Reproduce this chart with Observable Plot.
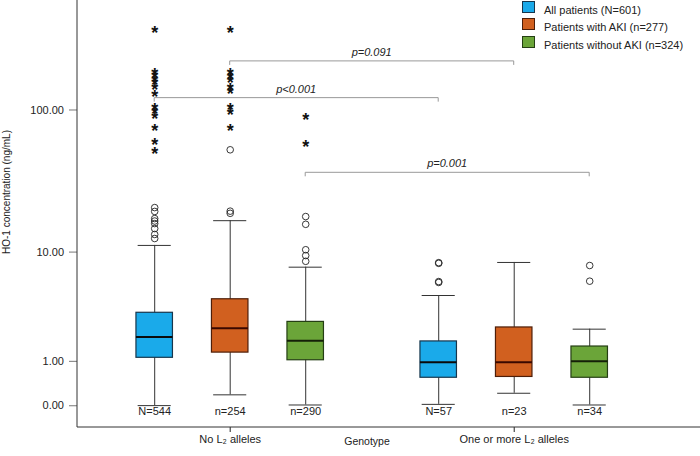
<!DOCTYPE html>
<html><head><meta charset="utf-8">
<script src="https://cdn.jsdelivr.net/npm/d3@7"></script>
<script src="https://cdn.jsdelivr.net/npm/@observablehq/plot@0.6"></script>
<style>
body{margin:0;background:#fff;font-family:Arial,"Liberation Sans",sans-serif;}
#wrap{position:relative;width:700px;height:456px;overflow:hidden;}
#legend{position:absolute;left:522px;top:0;font-size:11px;color:#222;}
#legend .item{position:absolute;left:0;white-space:nowrap;}
#legend .sw{position:absolute;left:0;top:0;width:11px;height:10px;border:1px solid #333;}
#legend .lb{position:absolute;left:22px;top:3px;line-height:12px;}
</style></head><body><div id="wrap"><div id="legend"></div></div>
<script>
const groups = ["No L₂ alleles", "One or more L₂ alleles"];
const series = ["All patients (N=601)", "Patients with AKI (n=277)", "Patients without AKI (n=324)"];
const fillColors = ["#1aaaea", "#d1601f", "#6ba539"];
const edgeColors = ["#17364c", "#4e1e08", "#253f14"];
const medianColors = ["#0a0a0a", "#3a0800", "#142008"];
// values in order: group-major (No L2: All, AKI, no AKI; One or more L2: All, AKI, no AKI)
const whiskerLow = [0.01, 0.195, 0.02, 0.03, 0.225, 0.02];
const quart1 = [1.13, 1.31, 1.05, 0.56, 0.58, 0.56];
const median = [1.95, 2.38, 1.78, 0.99, 0.99, 1.02];
const quart3 = [3.30, 4.31, 2.73, 1.75, 2.42, 1.54];
const whiskerHigh = [11.3, 17.1, 7.76, 4.63, 8.43, 2.33];
const countLabels = ["N=544", "n=254", "n=290", "N=57", "n=23", "n=34"];
const outliers = [
  [21.2, 19.9, 17.7, 17.0, 16.3, 15.0, 13.6, 12.7],
  [20.0, 19.3, 53.7],
  [18.3, 16.1, 10.5, 9.5, 8.6],
  [8.4, 8.3, 6.0, 5.9],
  [],
  [7.99, 6.04]
];
const extremes = [
  [361.8, 187.7, 177.7, 168.2, 159.2, 148.4, 132.9, 108.3, 100.9, 94.0, 76.9, 61.6, 53.7],
  [361.8, 187.7, 176.4, 165.6, 148.4, 139.3, 107.5, 100.1, 76.9],
  [92.1, 59.7],
  [], [], []
];
const yTicks = [0, 1, 10, 100];
const compLabels = ["p<0.001", "p=0.091", "p=0.001"];
const compSeries = [0, 1, 2];
const compLevel = [121.5, 216.3, 37.2];

const boxes = [];
groups.forEach((g, gi) => series.forEach((s, si) => {
  const i = gi * 3 + si;
  boxes.push({group: g, series: s, si, lo: whiskerLow[i], q1: quart1[i], med: median[i],
    q3: quart3[i], hi: whiskerHigh[i], n: countLabels[i]});
}));
const circles = boxes.flatMap((b, i) => outliers[i].map(v => ({group: b.group, series: b.series, v})));
const stars = boxes.flatMap((b, i) => extremes[i].map(v => ({group: b.group, series: b.series, v})));

const font = 'Arial, "Liberation Sans", sans-serif';
const plot = Plot.plot({
  width: 700, height: 456,
  marginLeft: 77, marginRight: 0, marginTop: 0, marginBottom: 29,
  style: {fontFamily: font, fontSize: "11px", color: "#222", background: "white"},
  fx: {domain: groups, paddingInner: 0.1, paddingOuter: 0.1468, align: 0.2986, round: false,
       label: null, tickSize: 5, tickPadding: 3},
  x: {domain: series, paddingInner: 0.5166, paddingOuter: 0.451, round: false, axis: null},
  y: {type: "symlog", constant: 1, domain: [-0.393, 561], axis: null},
  color: {type: "identity"},
  marks: [
    Plot.ruleX(boxes, {fx: "group", x: "series", y1: "lo", y2: "hi", stroke: "#333", strokeWidth: 1}),
    Plot.tickY(boxes, {fx: "group", x: "series", y: "lo", stroke: "#333", insetLeft: 1.7, insetRight: 1.7}),
    Plot.tickY(boxes, {fx: "group", x: "series", y: "hi", stroke: "#333", insetLeft: 1.7, insetRight: 1.7}),
    Plot.barY(boxes, {fx: "group", x: "series", y1: "q1", y2: "q3",
      fill: d => fillColors[d.si], stroke: d => edgeColors[d.si], strokeWidth: 1.2}),
    Plot.tickY(boxes, {fx: "group", x: "series", y: "med", stroke: d => medianColors[d.si], strokeWidth: 2}),
    Plot.dot(circles, {fx: "group", x: "series", y: "v", r: 3.3, fill: "none", stroke: "#222", strokeWidth: 0.9}),
    Plot.text(stars, {fx: "group", x: "series", y: "v", text: () => "*", fontSize: 18, fontWeight: "bold", dy: 4.5, fill: "#111"}),
    Plot.text(boxes, {fx: "group", x: "series", text: "n", frameAnchor: "bottom", dy: -13, fontSize: 11, fill: "#222"})
  ]
});
document.getElementById("wrap").prepend(plot);

// overlay: axis lines, y axis, brackets, labels (positions from the plot's scales)
const svg = d3.select(plot);
const fx = plot.scale("fx"), xs = plot.scale("x"), ys = plot.scale("y");
const px = (gi, si) => fx.apply(groups[gi]) + (xs.apply(series[si]) - xs.range[0]) + xs.bandwidth / 2;
const yBottom = ys.range[0], yTop = ys.range[1];
const xLeft = fx.range[0], xRight = fx.range[1];
const ov = svg.append("g");
const fmt = d3.format(".2f");
yTicks.forEach(t => {
  const yy = ys.apply(t);
  ov.append("line").attr("x1", xLeft - 8).attr("x2", xLeft).attr("y1", yy).attr("y2", yy)
    .attr("stroke", "#777").attr("stroke-width", 1);
  ov.append("text").attr("x", xLeft - 13).attr("y", yy).attr("dy", "0.32em").attr("text-anchor", "end")
    .attr("font-size", 11).attr("font-family", font).attr("fill", "#222").text(fmt(t));
});
ov.append("line").attr("x1", xLeft).attr("x2", xLeft).attr("y1", yTop).attr("y2", yBottom)
  .attr("stroke", "#333").attr("stroke-width", 1);
ov.append("line").attr("x1", xLeft).attr("x2", xRight).attr("y1", yBottom).attr("y2", yBottom)
  .attr("stroke", "#333").attr("stroke-width", 1);
compLabels.forEach((lab, k) => {
  const x1 = px(0, compSeries[k]), x2 = px(1, compSeries[k]), yv = ys.apply(compLevel[k]);
  ov.append("path").attr("d", `M${x1},${yv + 4}V${yv}H${x2}V${yv + 4}`)
    .attr("fill", "none").attr("stroke", "#999").attr("stroke-width", 1);
  ov.append("text").attr("x", (x1 + x2) / 2).attr("y", yv - 5).attr("text-anchor", "middle")
    .attr("font-style", "italic").attr("font-size", 11).attr("font-family", font).attr("fill", "#222").text(lab);
});
ov.append("text").attr("transform", `translate(10,192) rotate(-90)`).attr("text-anchor", "middle")
  .attr("font-size", 10).attr("font-family", font).attr("fill", "#222").text("HO-1 concentration (ng/mL)");
ov.append("text").attr("x", 367).attr("y", 445).attr("text-anchor", "middle")
  .attr("font-size", 10.5).attr("font-family", font).attr("fill", "#222").text("Genotype");

// legend
const legend = document.getElementById("legend");
series.forEach((s, i) => {
  const item = document.createElement("div");
  item.className = "item";
  item.style.top = (1 + i * 17.4) + "px";
  item.innerHTML = `<div class="sw" style="background:${fillColors[i]};border-color:${edgeColors[i]}"></div><div class="lb">${s}</div>`;
  legend.appendChild(item);
});
</script></body></html>
